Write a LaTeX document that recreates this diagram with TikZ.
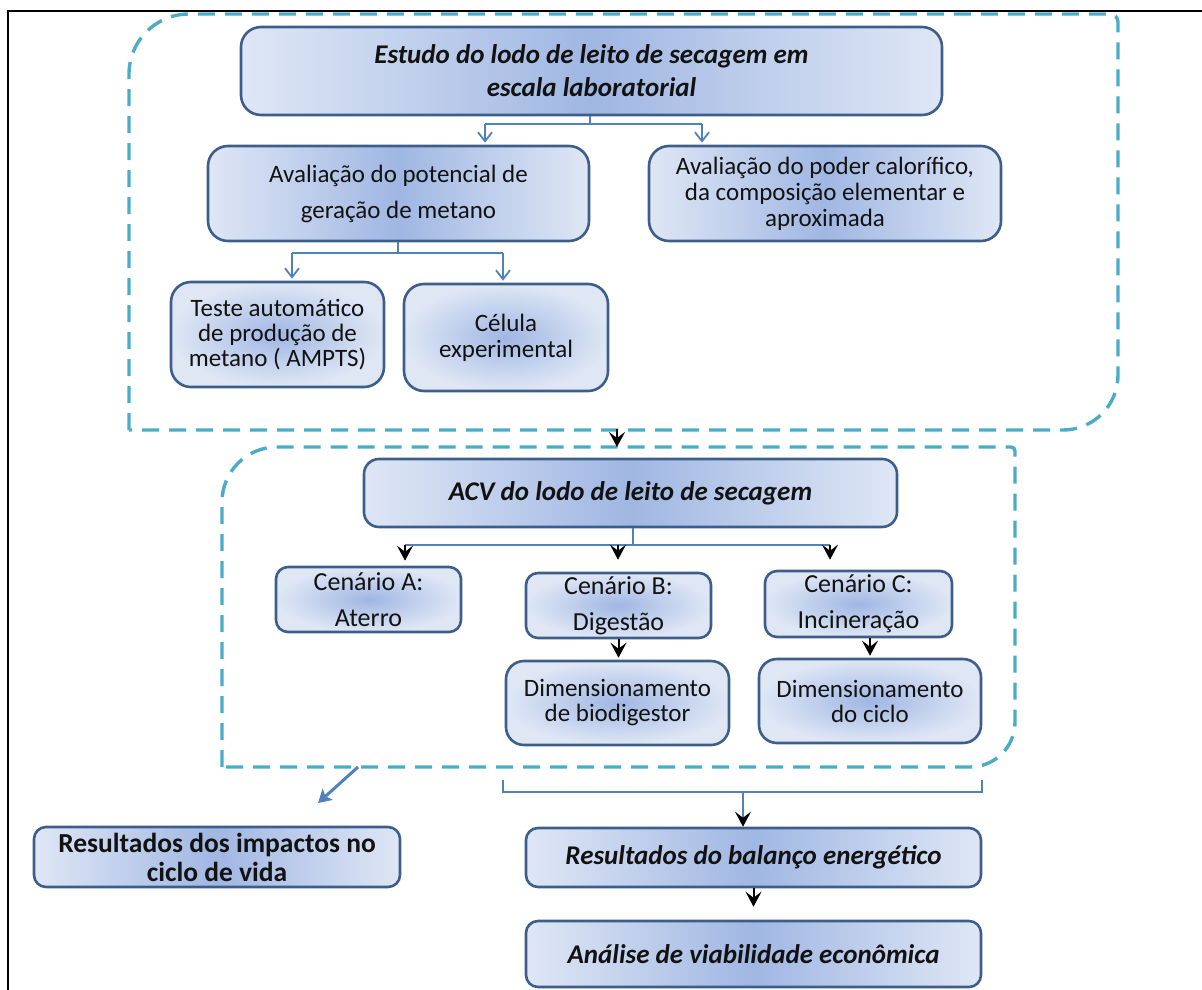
\documentclass[tikz,border=0pt]{standalone}
\usepackage{fontspec}
\setmainfont{Carlito}
\usetikzlibrary{arrows.meta,calc}

\definecolor{boxedge}{RGB}{62,94,138}
\definecolor{boxlight}{RGB}{223,231,245}
\definecolor{boxdark}{RGB}{160,183,227}
\definecolor{dashcol}{RGB}{75,172,198}
\definecolor{linkcol}{RGB}{79,129,189}
\definecolor{inkcol}{RGB}{18,18,18}

\begin{document}
\begin{tikzpicture}[x=1pt,y=-1pt,
  card/.style={draw=boxedge, line width=2.6pt, inner sep=0pt, align=center, text=inkcol},
  linfill/.style={left color=boxlight, right color=boxlight, middle color=boxdark},
  radfill/.style={shading=radial, inner color=boxdark, outer color=boxlight},
  regtext/.style={font=\fontsize{25}{#1}\selectfont},
  scentext/.style={font=\fontsize{26}{36}\selectfont},
  boldit/.style={font=\fontsize{27}{33}\selectfont\bfseries\itshape},
  dashbox/.style={draw=dashcol, line width=3.4pt, dash pattern=on 17pt off 10pt},
  link/.style={draw=linkcol, line width=1.8pt},
  thinlink/.style={draw=linkcol, line width=1.3pt},
  barb/.style={link, -{Straight Barb[length=9pt,width=14pt]}, shorten >=2pt},
  blkarrow/.style={draw=black, line width=2pt, -{Stealth[length=15pt,width=16pt,inset=6pt]}},
  diagarrow/.style={draw=linkcol, line width=3pt, -{Stealth[length=13pt,width=15pt,inset=3pt]}}
]
\useasboundingbox (0,0) rectangle (1202,990);
\clip (0,0) rectangle (1202,990);

% page frame
\draw[line width=2pt] (8,1000) -- (8,11) -- (1215,11);

% dashed groups
\draw[dashbox] (129,430) -- (129,74) .. controls (129,40.9) and (155.9,14) .. (189,14)
  -- (1110,14) .. controls (1114.4,14) and (1118,17.6) .. (1118,22)
  -- (1118,375) .. controls (1118,405.4) and (1093.4,430) .. (1063,430) -- cycle;
\draw[dashbox] (222,767) -- (222,502) .. controls (222,471.6) and (246.6,447) .. (277,447)
  -- (1011,447) .. controls (1013.2,447) and (1015,448.8) .. (1015,451)
  -- (1015,722) .. controls (1015,746.9) and (994.9,767) .. (970,767) -- cycle;

% laboratory stage
\node[card, linfill, rounded corners=20pt, minimum width=701pt, minimum height=88pt, boldit] (est) at (591.5,71)
  {Estudo do lodo de leito de secagem em\\escala laboratorial};
\node[card, linfill, rounded corners=20pt, minimum width=381pt, minimum height=95pt, regtext=36] (a1) at (398.5,193.5)
  {Avaliação do potencial de\\geração de metano};
\node[card, linfill, rounded corners=20pt, minimum width=352pt, minimum height=95pt, regtext=26] (a2) at (825,193.5)
  {Avaliação do poder calorífico,\\da composição elementar e\\aproximada};
\node[card, radfill, rounded corners=20pt, minimum width=213pt, minimum height=105pt, regtext=25] (te) at (277.5,334.5)
  {Teste automático\\de produção de\\metano ( AMPTS)};
\node[card, radfill, rounded corners=20pt, minimum width=204pt, minimum height=107pt, regtext=26] (ce) at (506,337.5)
  {Célula\\experimental};

% life cycle assessment stage
\node[card, linfill, rounded corners=15pt, minimum width=533pt, minimum height=68pt, boldit] (acv) at (630.5,493)
  {ACV do lodo de leito de secagem};
\node[card, radfill, rounded corners=12pt, minimum width=185pt, minimum height=65pt, scentext] (ca) at (368.5,599.5)
  {Cenário A:\\Aterro};
\node[card, radfill, rounded corners=12pt, minimum width=185pt, minimum height=65pt, scentext] (cb) at (618.5,605.5)
  {Cenário B:\\Digestão};
\node[card, radfill, rounded corners=12pt, minimum width=187pt, minimum height=66pt, scentext] (cc) at (858.5,604)
  {Cenário C:\\Incineração};
\node[card, radfill, rounded corners=18pt, minimum width=223pt, minimum height=84pt, regtext=25] (db) at (617.5,703)
  {Dimensionamento\\de biodigestor};
\node[card, radfill, rounded corners=18pt, minimum width=222pt, minimum height=84pt, regtext=25] (dc) at (870,701)
  {Dimensionamento\\do ciclo};

% results
\node[card, linfill, rounded corners=12pt, minimum width=366pt, minimum height=60pt,
  font=\fontsize{27.5}{29}\selectfont\bfseries] (ri) at (217,857)
  {Resultados dos impactos no\\ciclo de vida};
\node[card, linfill, rounded corners=12pt, minimum width=455pt, minimum height=59pt, boldit] (rb) at (753.5,857.5)
  {Resultados do balanço energético};
\node[card, linfill, rounded corners=12pt, minimum width=455pt, minimum height=66pt, boldit] (av) at (753.5,954)
  {Análise de viabilidade econômica};

% branch points
\coordinate (j1) at (590,124);
\coordinate (j1l) at (485,124);
\coordinate (j1r) at (702,124);
\coordinate (j2) at (398,253);
\coordinate (j2l) at (292,253);
\coordinate (j2r) at (503,253);
\coordinate (g1s) at (617,429);
\coordinate (g2n) at (617,447);
\coordinate (j3) at (633,545);
\coordinate (j3a) at (405,545);
\coordinate (j3b) at (618,545);
\coordinate (j3c) at (830,545);
\coordinate (dg1) at (358,767);
\coordinate (dg2) at (318,803);
\coordinate (brl) at (503,780);
\coordinate (brr) at (982,780);
\coordinate (brm) at (743,792);

% connectors of the laboratory stage
\draw[link] (est.south -| j1) -- (j1);
\draw[link] (j1l) -- (j1r);
\draw[barb] (j1l) -- (j1l |- a1.north);
\draw[barb] (j1r) -- (j1r |- a2.north);
\draw[link] (a1.south -| j2) -- (j2);
\draw[link] (j2l) -- (j2r);
\draw[barb] (j2l) -- (j2l |- te.north);
\draw[barb] (j2r) -- (j2r |- ce.north);

% from one stage to the next
\draw[blkarrow] (g1s) -- (g2n);

% connectors of the assessment stage
\draw[thinlink] (acv.south -| j3) -- (j3);
\draw[thinlink] (j3a) -- (j3c);
\draw[blkarrow, shorten >=5pt] (j3a) -- (j3a |- ca.north);
\draw[blkarrow, shorten >=12pt] (j3b) -- (j3b |- cb.north);
\draw[blkarrow, shorten >=10pt] (j3c) -- (j3c |- cc.north);
\draw[blkarrow, shorten >=2pt] (cb.south) -- (cb.south |- db.north);
\draw[blkarrow, shorten >=2pt] (dc.north |- cc.south) -- (dc.north);

% results
\draw[diagarrow] (dg1) -- (dg2);
\draw[thinlink] (brl) -- ++(0,12) -- ($(brr)+(0,12)$) -- (brr);
\draw[thinlink, -{Stealth[length=15pt,width=16pt,inset=6pt,black]}] (brm) -- (brm |- rb.north);
\draw[blkarrow, shorten >=13pt] (rb.south) -- (av.north);
\end{tikzpicture}
\end{document}
